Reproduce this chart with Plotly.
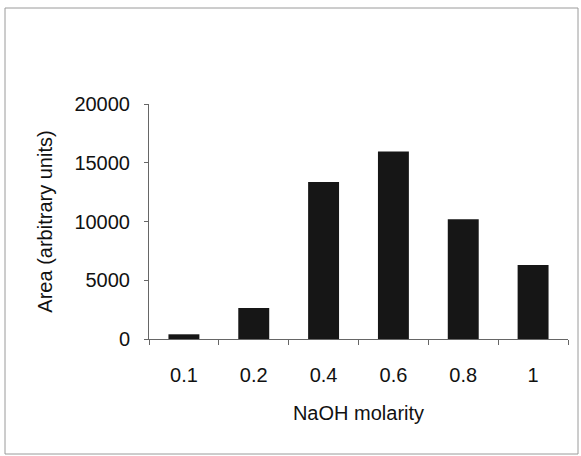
import plotly.graph_objects as go

categories = ["0.1", "0.2", "0.4", "0.6", "0.8", "1"]
area_values = [400, 2640, 13370, 15950, 10200, 6300]
y_ticks = [0, 5000, 10000, 15000, 20000]

W, H = 581, 456
ml, mr, mt, mb = 149, 13, 104, 117
pw, ph = W - ml - mr, H - mt - mb

def px_x(x):
    return (x - ml) / pw

def px_y(y):
    return (H - mb - y) / ph

font = dict(family="Liberation Sans, Arial, sans-serif", size=20, color="#111111")

fig = go.Figure(
    go.Bar(
        x=categories,
        y=area_values,
        marker=dict(color="#161616", line=dict(width=0)),
        hoverinfo="skip",
    )
)

fig.update_layout(
    width=W,
    height=H,
    margin=dict(l=ml, r=mr, t=mt, b=mb, autoexpand=False),
    paper_bgcolor="white",
    plot_bgcolor="white",
    bargap=0.557,
    showlegend=False,
    font=font,
    shapes=[
        dict(
            type="rect", xref="paper", yref="paper",
            x0=px_x(5), x1=px_x(578), y0=px_y(454), y1=px_y(8),
            line=dict(color="#9a9a9a", width=1), fillcolor="rgba(0,0,0,0)",
            layer="below",
        )
    ],
)

fig.update_xaxes(
    type="category",
    range=[-0.5, 5.5],
    automargin=False,
    tickson="boundaries",
    ticks="outside",
    ticklen=5,
    tickcolor="#666666",
    tickwidth=1,
    showline=True,
    linecolor="#666666",
    linewidth=1,
    showgrid=False,
    zeroline=False,
    tickfont=font,
    ticklabelstandoff=18,
    title=dict(text="NaOH molarity", font=font, standoff=20),
)

fig.update_yaxes(
    range=[0, 20000],
    automargin=False,
    tickvals=y_ticks,
    ticktext=[str(v) for v in y_ticks],
    ticks="outside",
    ticklen=4,
    tickcolor="#666666",
    tickwidth=1,
    showline=True,
    linecolor="#666666",
    linewidth=1,
    showgrid=False,
    zeroline=False,
    tickfont=font,
    ticklabelstandoff=10,
    title=dict(text="Area (arbitrary units)", font=font, standoff=16),
)

fig.write_html(
    "out.html",
    config={"displayModeBar": False, "staticPlot": True},
    post_script="document.body.style.margin='0';document.body.style.overflow='hidden';",
)
